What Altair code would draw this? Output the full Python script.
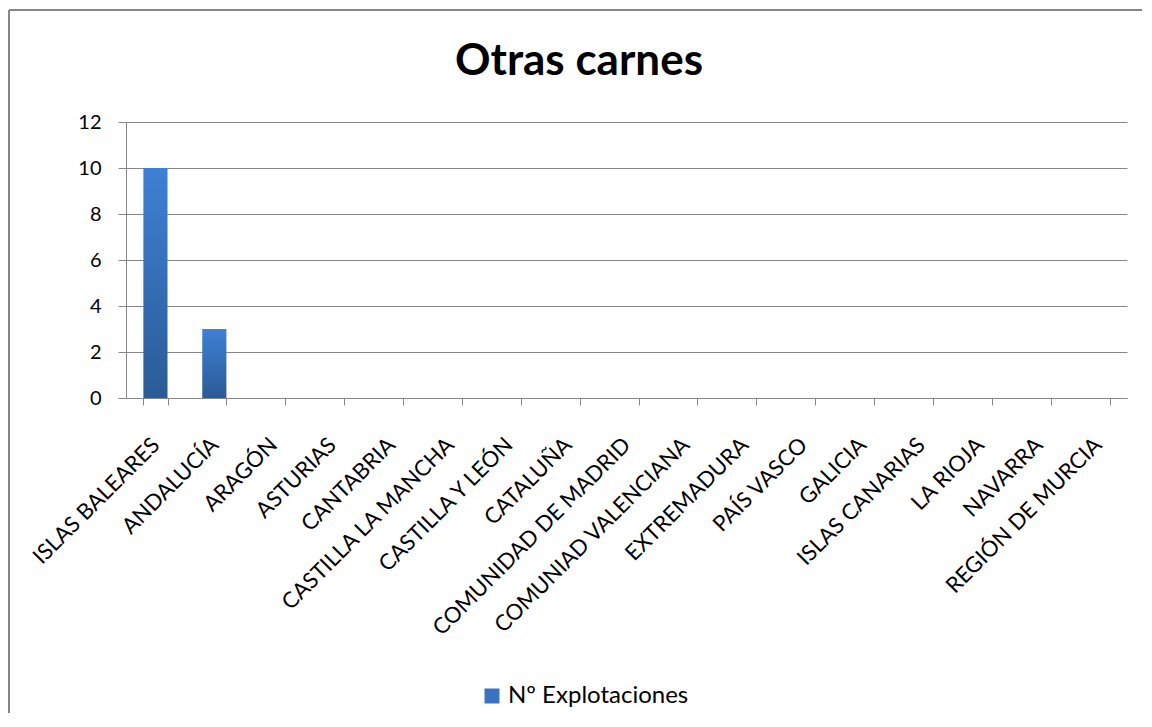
import altair as alt
import pandas as pd

categorias = ["ISLAS BALEARES", "ANDALUCÍA", "ARAGÓN", "ASTURIAS", "CANTABRIA",
              "CASTILLA LA MANCHA", "CASTILLA Y LEÓN", "CATALUÑA", "COMUNIDAD DE MADRID",
              "COMUNIAD VALENCIANA", "EXTREMADURA", "PAÍS VASCO", "GALICIA",
              "ISLAS CANARIAS", "LA RIOJA", "NAVARRA", "REGIÓN DE MURCIA"]
valores = [10, 3, 0, 0, 0, 0, 0, 0, 0, 0, 0, 0, 0, 0, 0, 0, 0]
serie = "Nº Explotaciones"
titulo = "Otras carnes"

df = pd.DataFrame({"cat": categorias, "val": valores, "serie": [serie] * len(categorias)})
df_title = pd.DataFrame({"t": [titulo]})

FONT = "Lato"
W, H = 1001, 276
PL, PT = 118, 114
PR, PB = 1134 - PL - W, 705 - PT - H

x = alt.X("cat:N", sort=categorias,
          scale=alt.Scale(paddingInner=0.59, paddingOuter=0.295),
          axis=alt.Axis(title=None, labelAngle=-45, labelAlign="right", labelBaseline="middle",
                        labelFontSize=22, labelFont=FONT, labelColor="#000000",
                        labelPadding=36, labelOffset=0, tickBand="extent", tickSize=7,
                        tickColor="#868686", domainColor="#868686", labelOverlap=False,
                        labelLimit=400))
y = alt.Y("val:Q", scale=alt.Scale(domain=[0, 12], nice=False),
          axis=alt.Axis(title=None, values=[0, 2, 4, 6, 8, 10, 12], grid=True,
                        gridColor="#868686", gridWidth=1, tickSize=8, tickColor="#868686",
                        domainColor="#868686", labelFontSize=20, labelFont=FONT,
                        labelColor="#000000", labelPadding=17))

grad = alt.Gradient(gradient="linear",
                    stops=[alt.GradientStop(color="#3E80D4", offset=0),
                           alt.GradientStop(color="#2B5B96", offset=1)],
                    x1=0, x2=0, y1=0, y2=1)

bars = alt.Chart(df).mark_bar(color=grad).encode(x=x, y=y)

legend_layer = alt.Chart(df).mark_square(opacity=0).encode(
    x=x, y=y,
    color=alt.Color("serie:N", scale=alt.Scale(range=["#3A74C0"]),
                    legend=alt.Legend(title=None, orient="none", legendX=354, legendY=562,
                                      symbolType="square", symbolSize=225, symbolOpacity=1,
                                      symbolStrokeWidth=0, labelOffset=4, labelLimit=400,
                                      labelFont=FONT, labelFontSize=24, labelColor="#000000"))
)

border_top = alt.Chart(df_title).mark_rule(stroke="#868686", strokeWidth=2).encode(
    x=alt.value(-PL + 1), x2=alt.value(W + PR + 20), y=alt.value(-PT + 2)
)
border_left = alt.Chart(df_title).mark_rule(stroke="#868686", strokeWidth=2).encode(
    x=alt.value(-PL + 1), y=alt.value(-PT + 2), y2=alt.value(H + PB + 20)
)

title = alt.Chart(df_title).mark_text(font=FONT, fontSize=44, fontWeight="bold", color="#000000",
                                      align="center", baseline="alphabetic").encode(
    text="t:N", x=alt.value(453), y=alt.value(-47)
)

chart = alt.layer(border_top, border_left, bars, legend_layer, title).properties(
    width=W, height=H,
    autosize=alt.AutoSizeParams(type="none"),
    padding={"left": PL, "top": PT, "right": PR, "bottom": PB},
).configure_view(stroke=None)

chart.save("out.html", embed_options={"renderer": "svg", "actions": False})
